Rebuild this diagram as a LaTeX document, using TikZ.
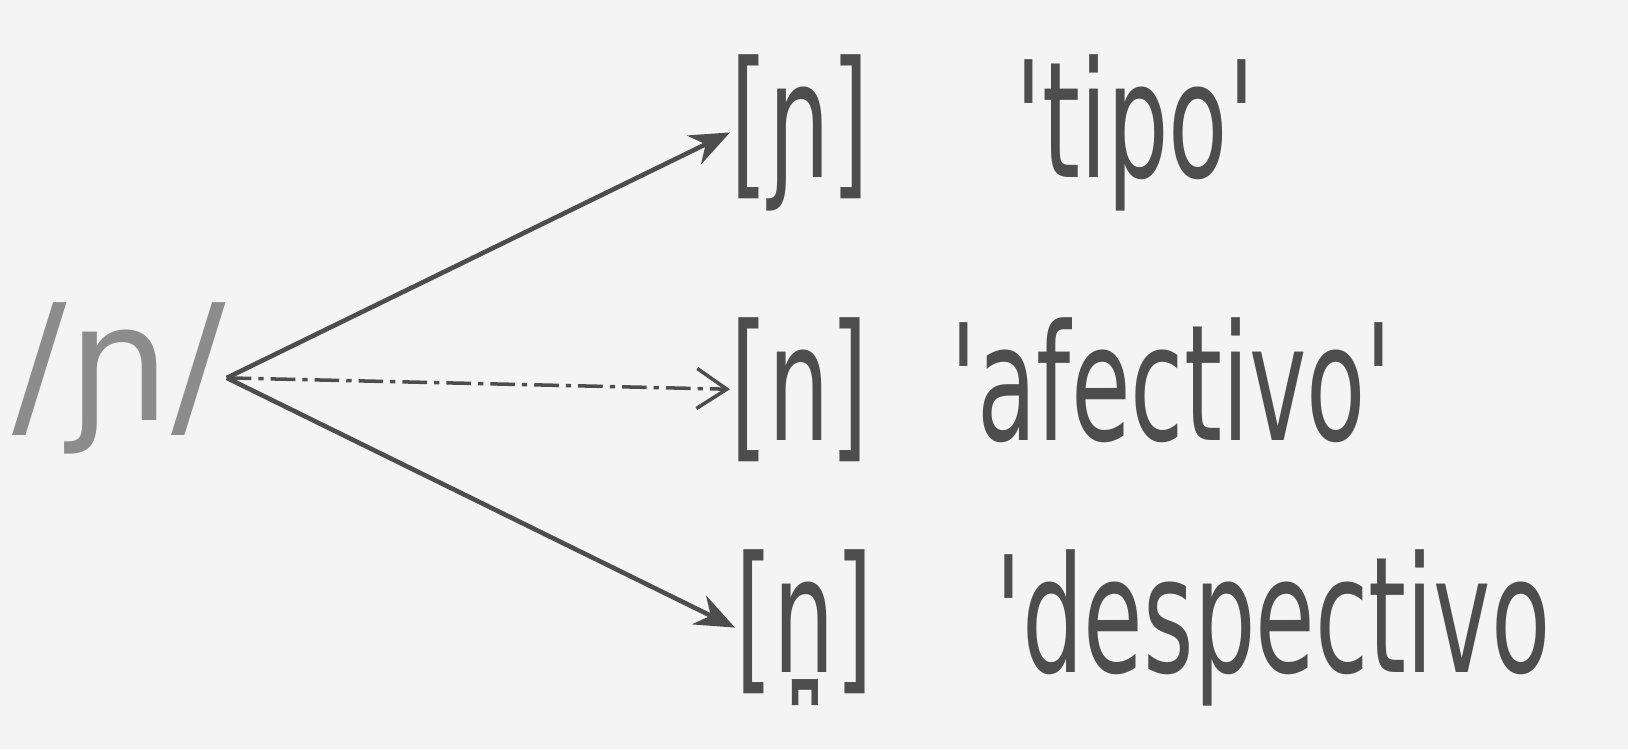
\documentclass[tikz,border=0pt]{standalone}
\usepackage{fontspec}
\usetikzlibrary{positioning,arrows.meta}
\newfontfamily\hand[FakeStretch=0.6]{DejaVu Sans}
\newfontfamily\handwide{DejaVu Sans}
\definecolor{paper}{HTML}{F4F4F4}
\definecolor{ink}{HTML}{4D4D4D}
\definecolor{faint}{HTML}{8C8C8C}

\begin{document}
\begin{tikzpicture}[
every node/.style={inner sep=0pt,anchor=base west,text=ink,font=\hand\fontsize{46}{52}\selectfont},
link/.style={draw=ink,line width=1.3pt,-{Stealth[length=4mm,width=3.2mm]}},
>=Stealth]
\fill[paper] (0,0) rectangle (16.28,7.49);
\useasboundingbox (0,0) rectangle (16.28,7.49);
\node (src) [text=faint,font=\handwide\fontsize{46}{52}\selectfont] at (0.12,3.29) {/ɲ/};
\node (tip) at (7.3,5.72) {[ɲ]};
\node (afe) at (7.3,3.09) {[n]};
\node (des) at (7.35,0.77) {[n̪]};
\node (tipo) at (10.15,5.72) {'tipo'};
\node (afectivo) at (9.5,3.09) {'afectivo'};
\node (despectivo) at (9.95,0.77) {'despectivo};
\draw[link] (src.east)--(tip.west);
\draw[draw=ink,line width=1pt,dash pattern=on 7pt off 2pt on 1.5pt off 2pt,-{Straight Barb[length=3mm,width=4mm]}] (src.east)--(afe.west);
\draw[link] (src.east)--(des.west);
\end{tikzpicture}
\end{document}
